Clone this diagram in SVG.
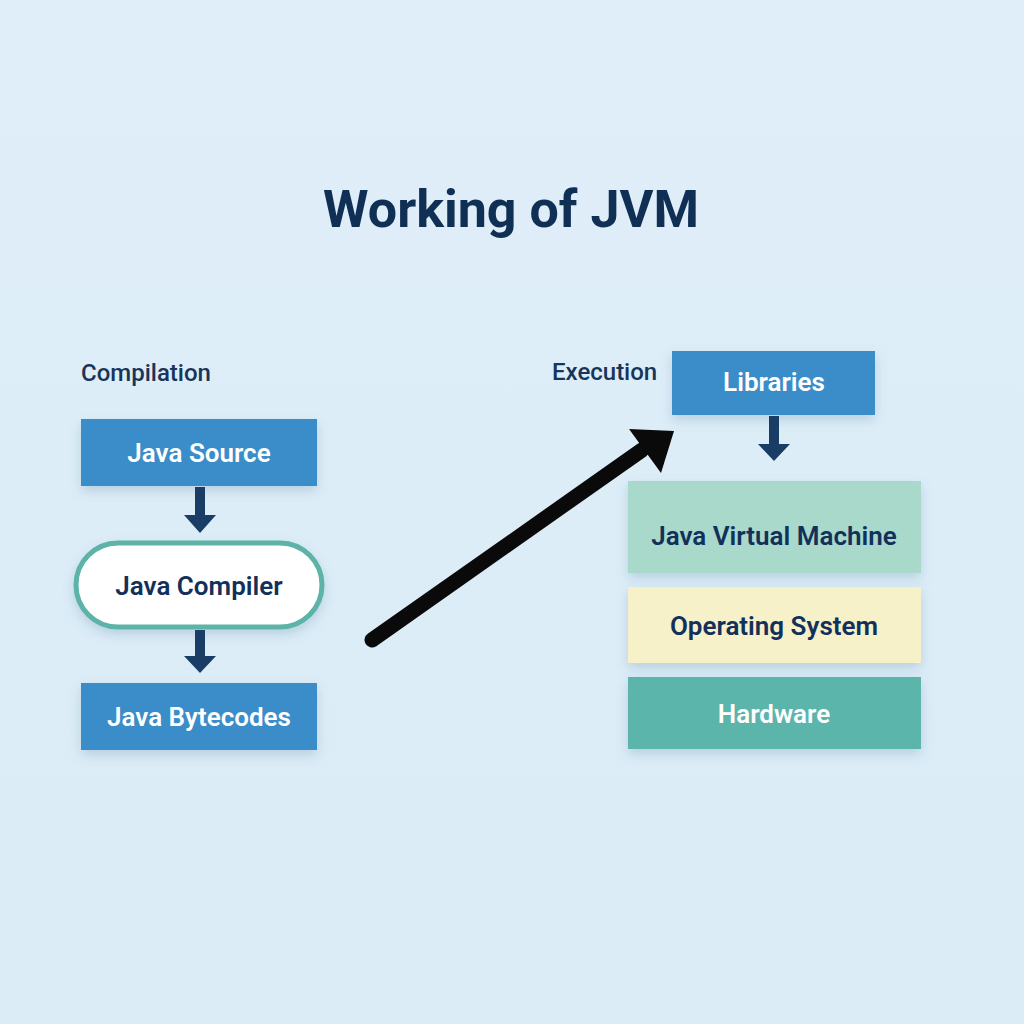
<svg xmlns="http://www.w3.org/2000/svg" width="1024" height="1024" viewBox="0 0 1024 1024">
<defs>
<linearGradient id="bg" x1="0" y1="0" x2="0" y2="1">
<stop offset="0" stop-color="#dfeef8"/>
<stop offset="1" stop-color="#dbecf6"/>
</linearGradient>
<filter id="sh" x="-20%" y="-20%" width="140%" height="150%">
<feDropShadow dx="0" dy="5" stdDeviation="6" flood-color="#3a6a90" flood-opacity="0.22"/>
</filter>
</defs>
<style>
.lbl{font-family:Roboto,"Liberation Sans",sans-serif;font-weight:600;font-size:26px;text-anchor:middle}
.w{fill:#ffffff}
.d{fill:#12305a}
.sec{font-family:Roboto,"Liberation Sans",sans-serif;font-weight:500;font-size:24px;fill:#17355a}
.blue{fill:#3b8dc9}
.dn{fill:#1a3d66}
</style>
<rect width="1024" height="1024" fill="url(#bg)"/>
<text x="511" y="227" text-anchor="middle" font-family="Roboto,'Liberation Sans',sans-serif" font-weight="700" font-size="52" fill="#0f2f54">Working of JVM</text>
<text class="sec" x="81" y="381">Compilation</text>
<text class="sec" x="552" y="380">Execution</text>

<g id="java-source"><rect class="blue" x="81" y="419" width="236" height="67" filter="url(#sh)"/><text class="lbl w" x="199" y="462">Java Source</text></g>
<g id="java-compiler"><rect x="76" y="543" width="246" height="84" rx="42" fill="#ffffff" stroke="#5db3a7" stroke-width="5" filter="url(#sh)"/><text class="lbl d" x="199" y="595">Java Compiler</text></g>
<g id="java-bytecodes"><rect class="blue" x="81" y="683" width="236" height="67" filter="url(#sh)"/><text class="lbl w" x="199" y="726">Java Bytecodes</text></g>
<g id="libraries"><rect class="blue" x="672" y="351" width="203" height="64" filter="url(#sh)"/><text class="lbl w" x="774" y="391">Libraries</text></g>
<g id="jvm"><rect x="628" y="481" width="293" height="92" fill="#a9d9ca" filter="url(#sh)"/><text class="lbl d" x="774" y="545">Java Virtual Machine</text></g>
<g id="os"><rect x="628" y="587" width="293" height="76" fill="#f6f1c9" filter="url(#sh)"/><text class="lbl d" x="774" y="635">Operating System</text></g>
<g id="hardware"><rect x="628" y="677" width="293" height="72" fill="#5cb5aa" filter="url(#sh)"/><text class="lbl w" x="774" y="723">Hardware</text></g>

<g id="connectors">
<path class="dn" d="M195 487h10v28h11l-16 18l-16-18h11z"/>
<path class="dn" d="M195 630h10v26h11l-16 17l-16-17h11z"/>
<path class="dn" d="M769 416h10v28h11l-16 17l-16-17h11z"/>
<line x1="372" y1="640" x2="642" y2="450" stroke="#0a0a0a" stroke-width="15" stroke-linecap="round"/>
<polygon points="629,429 674,431 661,473" fill="#0a0a0a"/>
</g>
</svg>
